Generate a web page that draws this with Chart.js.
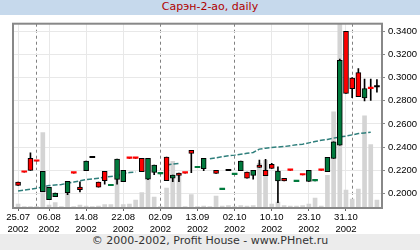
<!DOCTYPE html>
<html>
<head>
<meta charset="utf-8">
<script src="https://cdn.jsdelivr.net/npm/chart.js@4.4.1/dist/chart.umd.min.js"></script>
<style>
  html, body { margin: 0; padding: 0; background: #fff; }
  #wrap { position: relative; width: 420px; height: 250px; overflow: hidden; }
  #head { height: 15px; line-height: 15px; background: #c6d9ec; color: #b00000;
          font: 11px 'DejaVu Sans', sans-serif; text-align: center; }
  #foot { position: absolute; left: 0; top: 234px; width: 420px; height: 16px; line-height: 16px;
          background: #ececec; color: #333; font: 11px 'DejaVu Sans', sans-serif; text-align: center; }
  canvas { position: absolute; left: 0; top: 15px; }
</style>
</head>
<body>
<div id="wrap">
  <div id="head">Сарэн-2-ао, daily</div>
  <canvas id="chart" width="420" height="218"></canvas>
  <div id="foot">© 2000-2002, Profit House - www.PHnet.ru</div>
</div>
<script>
// daily candles, one entry per trading session (null = no candle drawn)
const opens  = [0.2096,0.2187,0.2302,0.2282,0.2014,0.1945,0.1970,null,0.2006,0.2179,
                0.2053,0.2195,0.2307,0.2096,0.2191,0.2065,0.2121,0.2101,0.2307,0.2307,
                0.2302,0.2123,0.2180,0.2168,0.2313,0.2130,0.2175,0.2180,0.2371,0.2221,
                0.2212,null,0.2198,0.2032,0.2195,0.2162,0.2195,0.2184,0.2155,0.2244,
                0.2198,0.2250,0.2106,0.2129,0.2203,0.2101,0.2163,0.2103,0.2107,0.2203,
                0.2186,0.2302,0.2416,0.3399,0.2997,0.3043,0.2824,0.2910,0.2919];
const highs  = [0.2096,0.2187,0.2350,0.2282,0.2191,0.2052,0.2003,null,0.2104,0.2179,
                0.2100,0.2278,0.2307,0.2096,0.2191,0.2070,0.2295,0.2198,0.2307,0.2307,
                0.2302,0.2302,0.2243,0.2173,0.2313,0.2157,0.2175,0.2180,0.2371,0.2226,
                0.2302,null,0.2198,0.2037,0.2195,0.2167,0.2278,0.2184,0.2198,0.2287,
                0.2293,0.2260,0.2229,0.2129,0.2203,0.2106,0.2163,0.2198,0.2112,0.2203,
                0.2311,0.2445,0.3160,0.3399,0.3000,0.3078,0.2988,0.2988,0.2983];
const lows   = [0.2069,0.2182,0.2198,0.2277,0.2014,0.1945,0.1970,null,0.1988,0.2174,
                0.2012,0.2195,0.2307,0.2052,0.2080,0.2065,0.2080,0.2101,0.2302,0.2302,
                0.2187,0.2118,0.2162,0.2168,0.2109,0.2100,0.2100,0.2175,0.2179,0.2221,
                0.2195,null,0.2172,0.2032,0.2195,0.2162,0.2195,0.2130,0.2123,0.2224,
                0.2152,0.2216,0.1920,0.2106,0.2198,0.2101,0.2158,0.2103,0.2107,0.2198,
                0.2186,0.2302,0.2416,0.2864,0.2827,0.2836,0.2798,0.2802,0.2874];
const closes = [0.2069,0.2182,0.2198,0.2277,0.2191,0.2052,0.2003,null,0.2104,0.2174,
                0.2031,0.2278,0.2307,0.2052,0.2110,0.2070,0.2295,0.2198,0.2302,0.2302,
                0.2187,0.2302,0.2243,0.2173,0.2109,0.2157,0.2155,0.2175,0.2345,0.2226,
                0.2302,null,0.2172,0.2037,0.2195,0.2167,0.2278,0.2130,0.2198,0.2224,
                0.2152,0.2216,0.2192,0.2106,0.2198,0.2106,0.2158,0.2198,0.2112,0.2198,
                0.2311,0.2445,0.3149,0.2864,0.2905,0.2836,0.2905,0.2905,0.2919];
// traded volume (relative units, largest session = top of the plot)
const volumes = [4,1.5,1.5,1.5,76,3,5.5,1.5,16,1.5,
                 3,2,1.5,2,3.5,3.5,35,3.5,4,8,
                 15.5,30,11,1.5,20,47,33,1.5,13.5,1.5,
                 2,1.5,12,2,2.5,1.5,2.5,2,2.5,45,
                 48,4,6,2.5,2,2,2.5,4,10,2,
                 33,97,186,18,9,19,93,64,8];
// moving average (null where it is not drawn)
const average = [0.2020,0.2028,0.2035,0.2043,0.2055,0.2067,0.2072,0.2076,0.2087,0.2097,
                 0.2108,0.2119,0.2125,0.2131,0.2138,0.2146,0.2153,0.2172,0.2179,0.2184,
                 null,null,null,null,0.2244,0.2252,0.2259,null,null,null,
                 null,0.2298,0.2307,0.2316,0.2324,0.2330,0.2338,0.2346,0.2353,0.2382,
                 0.2390,0.2397,0.2400,0.2404,0.2412,0.2419,0.2425,0.2436,0.2448,0.2459,
                 0.2466,0.2477,0.2487,0.2494,0.2505,0.2516,0.2522,0.2528,null];

const xTickIndex  = [0, 5, 11, 17, 23, 29, 35, 41, 47, 53];
const xTickLabels = ['25.07','06.08','14.08','22.08','02.09','13.09','02.10','10.10','23.10','31.10'];
const xTickYear   = '2002';
const monthStarts = [3, 23, 35, 54];
const yTicks = [0.20, 0.22, 0.24, 0.26, 0.28, 0.30, 0.32, 0.34];

const UP = '#007a3d', DOWN = '#ff0000', FLAT = '#000000';

const candleIdx = opens.map((o, i) => i).filter(i => opens[i] !== null);
const bodyData = candleIdx.map(i => ({ x: i, y: [opens[i], closes[i]] }));
const wickData = candleIdx.map(i => ({ x: i, y: [lows[i], highs[i]] }));
const volData  = volumes.map((v, i) => ({ x: i, y: v }));
const avgData  = average.map((v, i) => ({ x: i, y: v }));

const allXTicks = [...new Set([...xTickIndex, ...monthStarts])].sort((a, b) => a - b);

// plot frame
const frame = {
  id: 'frame',
  afterDatasetsDraw(chart) {
    const { ctx, chartArea: a } = chart;
    ctx.save();
    ctx.strokeStyle = '#888';
    ctx.lineWidth = 2;
    ctx.strokeRect(a.left, a.top, a.right - a.left, a.bottom - a.top);
    ctx.restore();
  }
};

const tickFont = { family: 'Liberation Sans', size: 9.5 };

new Chart(document.getElementById('chart'), {
  type: 'bar',
  data: {
    datasets: [
      {
        type: 'line', data: avgData, yAxisID: 'y', order: 4,
        borderColor: '#2f7f7c', borderWidth: 1.5, borderDash: [5, 2],
        pointRadius: 0, spanGaps: false, tension: 0
      },
      {
        data: wickData, yAxisID: 'y', order: 3, grouped: false,
        backgroundColor: '#000', barThickness: 1, borderWidth: 0
      },
      {
        data: bodyData, yAxisID: 'y', order: 2, grouped: false,
        barThickness: 5, minBarLength: 1.5, borderSkipped: false,
        borderColor: '#000',
        borderWidth: ctx => {
          const r = ctx.raw; if (!r) return 0;
          return Math.abs(r.y[1] - r.y[0]) < 0.0015 ? 0 : 1;
        },
        backgroundColor: ctx => {
          const r = ctx.raw; if (!r) return FLAT;
          const [o, c] = r.y;
          return c > o ? UP : (c < o ? DOWN : FLAT);
        }
      },
      {
        data: volData, yAxisID: 'yv', order: 5, grouped: false,
        backgroundColor: '#d4d4d4', barThickness: 4, borderWidth: 0
      }
    ]
  },
  options: {
    responsive: false,
    animation: false,
    events: [],
    layout: { padding: { left: 13, top: 8, right: 0, bottom: 0 } },
    plugins: { legend: { display: false }, tooltip: { enabled: false } },
    scales: {
      x: {
        type: 'linear', min: -0.82, max: 58.82, offset: false,
        afterBuildTicks: s => { s.ticks = allXTicks.map(v => ({ value: v })); },
        afterFit: s => { s.height = 25; },
        ticks: {
          autoSkip: false, maxRotation: 0, padding: 1, color: '#000', font: tickFont,
          callback: v => {
            const k = xTickIndex.indexOf(v);
            return k < 0 ? '' : [xTickLabels[k], xTickYear];
          }
        },
        grid: {
          offset: false, tickLength: 3,
          color: ctx => (ctx.tick && monthStarts.includes(ctx.tick.value)) ? '#808080' : '#e8e8e8',
          tickColor: ctx => (ctx.tick && xTickIndex.includes(ctx.tick.value)) ? '#666' : 'rgba(0,0,0,0)'
        },
        border: {
          display: false,
          dash: ctx => (ctx.tick && monthStarts.includes(ctx.tick.value)) ? [3, 3] : []
        }
      },
      y: {
        position: 'right', min: 0.1873, max: 0.3466,
        afterBuildTicks: s => { s.ticks = yTicks.map(v => ({ value: v })); },
        afterFit: s => { s.width = 38; },
        ticks: { padding: 3, color: '#000', font: tickFont, callback: v => v.toFixed(4) },
        grid: { color: '#e8e8e8', tickLength: 3, tickColor: '#888' },
        border: { display: false }
      },
      yv: { display: false, min: 0, max: 186 }
    }
  },
  plugins: [frame]
});
</script>
</body>
</html>
